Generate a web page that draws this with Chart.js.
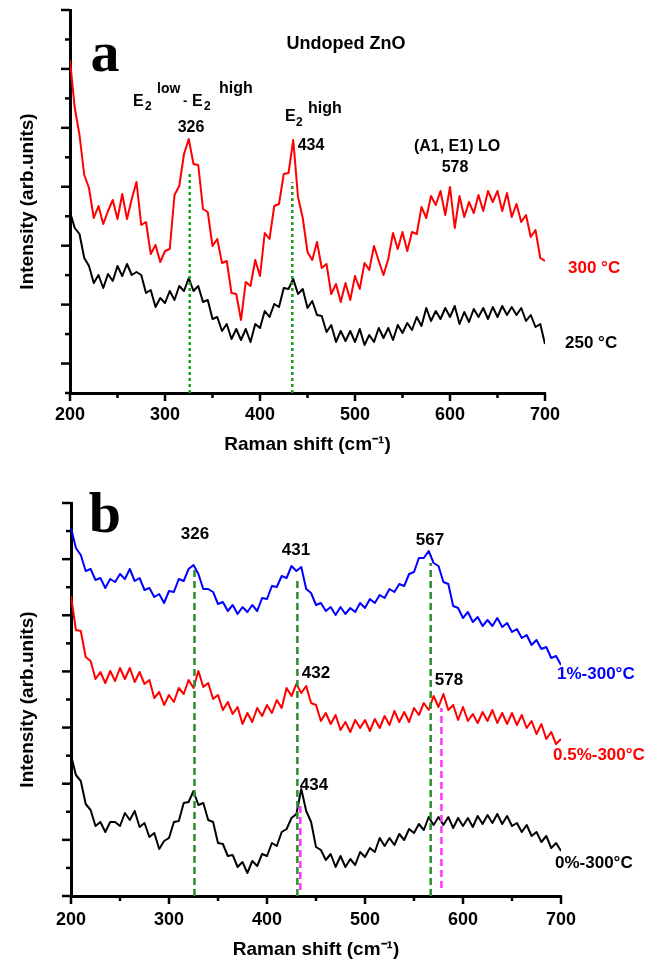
<!DOCTYPE html>
<html><head><meta charset="utf-8">
<script src="https://cdn.jsdelivr.net/npm/chart.js@4.4.1/dist/chart.umd.min.js"></script>
<style>
html,body{margin:0;padding:0;background:#fff;}
#wrap{position:relative;width:650px;height:961px;overflow:hidden;font-family:'Liberation Sans',Arial,sans-serif;}
canvas{position:absolute;left:0;}
#ca{top:0;} #cb{top:480px;}
.t{position:absolute;white-space:nowrap;line-height:1;font-weight:bold;color:#000;}
.c{transform:translate(-50%,-50%);}
.l{transform:translateY(-50%);}
.serif{font-family:'Liberation Serif','Times New Roman',serif;}
</style></head><body>
<div id="wrap">
<canvas id="ca" width="650" height="475"></canvas>
<canvas id="cb" width="650" height="481"></canvas>

<!-- panel a annotations -->
<div class="t serif c" style="left:105px;top:52px;font-size:58px">a</div>
<div class="t c" style="left:346px;top:43px;font-size:18px">Undoped ZnO</div>
<div class="t l" style="left:133px;top:101px;font-size:16px">E</div>
<div class="t l" style="left:145px;top:106px;font-size:12px">2</div>
<div class="t l" style="left:157px;top:88px;font-size:14px">low</div>
<div class="t l" style="left:183px;top:100px;font-size:13px">-</div>
<div class="t l" style="left:192px;top:101px;font-size:16px">E</div>
<div class="t l" style="left:204px;top:106px;font-size:12px">2</div>
<div class="t l" style="left:219px;top:88px;font-size:16px">high</div>
<div class="t c" style="left:191px;top:127px;font-size:16px">326</div>
<div class="t l" style="left:285px;top:116px;font-size:16px">E</div>
<div class="t l" style="left:296px;top:122px;font-size:12px">2</div>
<div class="t l" style="left:308px;top:108px;font-size:16px">high</div>
<div class="t c" style="left:311px;top:145px;font-size:16px">434</div>
<div class="t c" style="left:457px;top:146px;font-size:16px">(A1, E1) LO</div>
<div class="t c" style="left:455px;top:167px;font-size:16px">578</div>
<div class="t l" style="left:568px;top:267px;font-size:17px;color:#ff0000">300 °C</div>
<div class="t l" style="left:565px;top:342px;font-size:17px">250 °C</div>

<!-- panel b annotations -->
<div class="t serif c" style="left:105px;top:513px;font-size:58px">b</div>
<div class="t c" style="left:195px;top:533px;font-size:17px">326</div>
<div class="t c" style="left:296px;top:549px;font-size:17px">431</div>
<div class="t c" style="left:430px;top:539px;font-size:17px">567</div>
<div class="t c" style="left:316px;top:672px;font-size:17px">432</div>
<div class="t c" style="left:449px;top:679px;font-size:17px">578</div>
<div class="t c" style="left:314px;top:784px;font-size:17px">434</div>
<div class="t l" style="left:557px;top:673px;font-size:17px;color:#0000ff">1%-300°C</div>
<div class="t l" style="left:553px;top:754px;font-size:17px;color:#ff0000">0.5%-300°C</div>
<div class="t l" style="left:555px;top:862px;font-size:17px">0%-300°C</div>
</div>

<script>
// ---------- data ----------
const ramanShift = [
200,205,210,215,220,225,230,235,240,245,
250,255,260,265,270,275,280,285,290,295,
300,305,310,315,320,325,330,335,340,345,
350,355,360,365,370,375,380,385,390,395,
400,405,410,415,420,425,430,435,440,445,
450,455,460,465,470,475,480,485,490,495,
500,505,510,515,520,525,530,535,540,545,
550,555,560,565,570,575,580,585,590,595,
600,605,610,615,620,625,630,635,640,645,
650,655,660,665,670,675,680,685,690,695,
700];

// panel a: undoped ZnO
const undoped300C = [
333,285,258,218,205,175,187,169,182,193,
174,199,174,194,211,168,171,139,148,131,
142,144,198,207,239,254,229,228,184,181,
147,154,130,132,100,99,73,111,107,133,
117,160,154,187,189,219,220,253,196,175,
141,133,151,125,129,99,109,91,110,93,
117,104,130,123,147,132,118,134,160,144,
161,142,161,159,186,175,197,188,202,178,
206,165,197,176,191,180,198,182,202,191,
202,182,200,176,189,171,178,156,163,135,
132];
const undoped250C = [
181,165,159,135,127,110,118,105,119,112,
127,117,129,118,121,118,100,103,86,95,
90,102,93,107,102,115,102,107,91,93,
74,76,62,69,54,64,53,64,51,69,
65,82,76,89,86,105,104,114,99,104,
85,92,78,77,61,68,51,62,52,62,
51,64,48,58,51,65,55,65,53,68,
60,70,63,76,67,85,72,82,74,85,
76,87,69,81,71,84,76,85,74,86,
76,87,78,86,78,85,72,78,66,69,
49];

// panel b: doped, 300 °C
const doped1pct = [
368,348,341,325,327,316,318,308,317,314,
322,317,327,315,318,306,308,299,302,293,
305,304,317,315,327,331,322,307,307,304,
292,294,285,291,282,289,284,291,285,298,
297,310,309,320,318,330,325,329,307,303,
291,293,285,289,281,289,282,288,284,293,
288,297,293,301,298,307,304,312,310,322,
324,338,338,345,333,330,314,312,290,288,
278,284,274,279,270,276,270,278,269,273,
264,267,258,261,251,256,247,249,238,240,
231];
const doped05pct = [
300,266,265,239,235,217,224,213,225,215,
228,217,228,214,224,212,216,198,204,191,
201,194,208,202,216,208,225,209,213,197,
201,186,194,182,189,172,183,174,188,180,
191,183,196,188,208,200,212,203,210,193,
191,175,183,172,181,166,174,164,176,168,
176,165,177,168,180,171,185,174,184,174,
188,181,193,186,200,189,202,186,191,176,
189,175,182,173,184,175,186,173,183,172,
183,171,181,168,175,162,172,157,164,152,
157];
const doped0pct = [
141,121,115,92,86,70,74,64,74,74,
70,83,76,85,69,73,59,63,47,55,
58,74,75,93,94,105,91,93,76,74,
53,52,40,41,29,34,23,35,30,42,
40,53,50,64,67,78,82,107,85,74,
49,46,36,42,29,40,29,37,31,44,
39,48,44,58,50,58,51,62,56,67,
63,72,66,79,71,79,71,79,68,78,
70,78,69,80,72,81,73,82,72,80,
70,73,64,71,60,64,54,60,48,53,
45];

// peak marker lines
const peaksA = [326, 434];
const peaksATop = [221, 211];
const peaksBGreen = [326, 431, 567];
const peaksBGreenTop = [326, 318, 333];
const peaksBMagenta = [434, 578];
const peaksBMagentaTop = [91, 188];
const peaksBMagentaBottom = [6, 8];

// axes
const xTicks = [200,250,300,350,400,450,500,550,600,650,700];
const xTickLabels = ['200','','300','','400','','500','','600','','700'];
const yMaxA = 383, yDivA = 13;
const yMaxB = 393, yDivB = 14;

// ---------- helpers ----------
const FONT = "'Liberation Sans', Arial, sans-serif";
const series = (ys) => ramanShift.map((x, i) => ({x: x, y: ys[i]}));
const curve = (ys, color) => ({data: series(ys), borderColor: color, borderWidth: 2, pointRadius: 0, fill: false, tension: 0, borderJoinStyle: 'round'});
const marker = (x, top, bottom, color, dash, w) => ({data: [{x: x, y: bottom}, {x: x, y: top}], borderColor: color, borderDash: dash, borderWidth: w, pointRadius: 0, fill: false});

const tickMarks = {
  id: 'tickMarks',
  afterDraw(chart, args, opts) {
    const ctx = chart.ctx, xs = chart.scales.x, ys = chart.scales.y;
    ctx.save();
    ctx.strokeStyle = '#000';
    ctx.lineWidth = 2.5;
    xs.ticks.forEach(t => {
      const px = xs.getPixelForValue(t.value);
      const len = (t.value % 100 === 0) ? 8 : 5;
      ctx.beginPath(); ctx.moveTo(px, xs.top); ctx.lineTo(px, xs.top + len); ctx.stroke();
    });
    ys.ticks.forEach((t, i) => {
      const py = ys.getPixelForValue(t.value);
      const len = (i % 2 === opts.majorParity) ? 9 : 5;
      ctx.beginPath(); ctx.moveTo(ys.right, py); ctx.lineTo(ys.right - len, py); ctx.stroke();
    });
    ctx.restore();
  }
};

function makeOptions(cfg) {
  return {
    responsive: false, animation: false, events: [],
    layout: {padding: {left: 0, right: cfg.padRight, top: cfg.padTop, bottom: 0}},
    plugins: {legend: {display: false}, tooltip: {enabled: false}, tickMarks: {majorParity: cfg.majorParity}},
    scales: {
      x: {
        type: 'linear', min: 200, max: 700,
        afterBuildTicks: s => { s.ticks = xTicks.map(v => ({value: v})); },
        afterFit: s => { s.height = cfg.xHeight; },
        grid: {display: false, drawTicks: false},
        border: {display: true, color: '#000', width: 3},
        ticks: {padding: cfg.tickPad, color: '#000', autoSkip: false, maxRotation: 0,
                font: {family: FONT, size: 18, weight: 'bold'},
                callback: (v, i) => xTickLabels[i]},
        title: {display: true, text: 'Raman shift (cm\u207B\u00B9)', color: '#000',
                font: {family: FONT, size: 19, weight: 'bold'}, padding: {top: 0, bottom: cfg.titlePad}}
      },
      y: {
        min: 0, max: cfg.yMax,
        afterBuildTicks: s => { const a = []; for (let i = 0; i <= cfg.yDiv; i++) a.push({value: i * cfg.yMax / cfg.yDiv}); s.ticks = a; },
        afterFit: s => { s.width = cfg.yWidth; },
        grid: {display: false, drawTicks: false},
        border: {display: true, color: '#000', width: 3},
        ticks: {display: false},
        title: {display: true, text: 'Intensity (arb.units)', color: '#000',
                font: {family: FONT, size: 19, weight: 'bold'}, padding: {top: 16, bottom: 0}}
      }
    }
  };
}

// ---------- panel a ----------
const dsA = [];
peaksA.forEach((p, i) => dsA.push(marker(p, peaksATop[i], 0, '#1aa01a', [3, 3], 2.5)));
dsA.push(curve(undoped300C, '#ff0000'));
dsA.push(curve(undoped250C, '#000000'));
new Chart(document.getElementById('ca'), {
  type: 'line',
  data: {datasets: dsA},
  options: makeOptions({padRight: 105, padTop: 10, xHeight: 82, yWidth: 70, tickPad: 11, titlePad: 19, yMax: yMaxA, yDiv: yDivA, majorParity: 1}),
  plugins: [tickMarks]
});

// ---------- panel b ----------
const dsB = [];
peaksBGreen.forEach((p, i) => dsB.push(marker(p, peaksBGreenTop[i], 0, '#2e8b2e', [7, 4], 2.5)));
peaksBMagenta.forEach((p, i) => dsB.push(marker(p, peaksBMagentaTop[i], peaksBMagentaBottom[i], '#ff33ff', [7, 4], 2.5)));
dsB.push(curve(doped1pct, '#0000ff'));
dsB.push(curve(doped05pct, '#ff0000'));
dsB.push(curve(doped0pct, '#000000'));
new Chart(document.getElementById('cb'), {
  type: 'line',
  data: {datasets: dsB},
  options: makeOptions({padRight: 89, padTop: 23, xHeight: 65, yWidth: 71, tickPad: 13, titlePad: 0, yMax: yMaxB, yDiv: yDivB, majorParity: 0}),
  plugins: [tickMarks]
});
</script>
</body></html>
